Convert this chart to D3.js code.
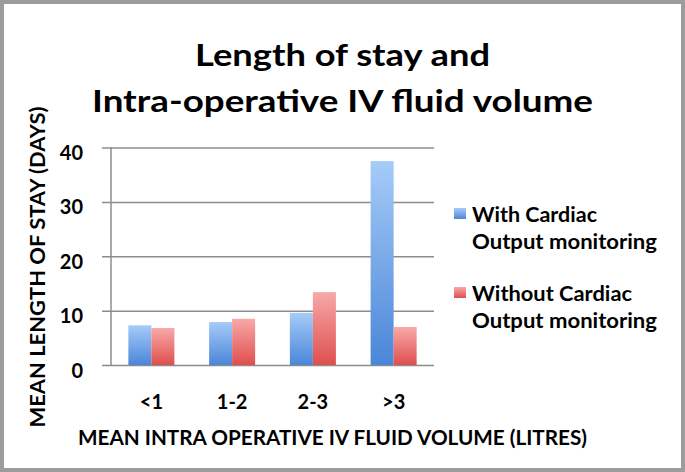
<!DOCTYPE html>
<html>
<head>
<meta charset="utf-8">
<script src="https://cdn.jsdelivr.net/npm/d3@7"></script>
<style>
  html, body { margin: 0; padding: 0; background: #fff; }
  svg { display: block; font-family: Lato, 'Open Sans', sans-serif; font-weight: bold; }
</style>
</head>
<body>
<div id="chart"></div>
<script>
'use strict'

const categories = ['<1', '1-2', '2-3', '>3']
const seriesNames = ['With Cardiac Output monitoring', 'Without Cardiac Output monitoring']
const withMonitoring = [7.3, 7.9, 9.6, 37.5]
const withoutMonitoring = [6.8, 8.5, 13.4, 7.0]
const yTicks = [0, 10, 20, 30, 40]
const legendLines = [['With Cardiac', 'Output monitoring'], ['Without Cardiac', 'Output monitoring']]
const legendWidths = [[125, 185], [160, 185]]

const width = 685
const height = 472
const plot = {left: 111, right: 434, top: 147.5, bottom: 365}
const gridLeft = 102
const colors = [
  {top: '#a6cbf8', bottom: '#4a86d9'},
  {top: '#f7a9a8', bottom: '#df4f4e'}
]

const rows = categories.map((c, i) => ({category: c, values: [withMonitoring[i], withoutMonitoring[i]]}))

const svg = d3.select('#chart')
  .append('svg')
    .attr('width', width)
    .attr('height', height)

const defs = svg.append('defs')
colors.forEach((c, i) => {
  const g = defs.append('linearGradient')
    .attr('id', 'grad' + i)
    .attr('x1', 0).attr('y1', 0).attr('x2', 0).attr('y2', 1)
  g.append('stop').attr('offset', '0%').attr('stop-color', c.top)
  g.append('stop').attr('offset', '100%').attr('stop-color', c.bottom)
})

// frame
svg.append('rect')
  .attr('x', 2).attr('y', 2)
  .attr('width', width - 4).attr('height', height - 4)
  .attr('fill', '#fff')
  .attr('stroke', '#9c9c9c')
  .attr('stroke-width', 4)

// title
const title = svg.append('text')
  .attr('text-anchor', 'middle')
  .attr('font-size', 31)
  .attr('fill', '#000')
title.append('tspan').attr('x', 342.5).attr('y', 66)
  .attr('textLength', 295).attr('lengthAdjust', 'spacingAndGlyphs')
  .text('Length of stay and')
title.append('tspan').attr('x', 342.5).attr('y', 112)
  .attr('textLength', 501).attr('lengthAdjust', 'spacingAndGlyphs')
  .text('Intra-operative IV fluid volume')

const x0 = d3.scaleBand()
  .domain(categories)
  .range([plot.left, plot.right])
  .paddingInner(0.43)
  .paddingOuter(0.215)

const x1 = d3.scaleBand()
  .domain([0, 1])
  .range([0, x0.bandwidth()])

const y = d3.scaleLinear()
  .domain([0, 40])
  .range([plot.bottom, plot.top])

// gridlines + y tick labels
const yAxis = d3.axisLeft(y)
  .tickValues(yTicks)
  .tickSize(plot.right - gridLeft)
  .tickPadding(19)

svg.append('g')
  .attr('transform', `translate(${plot.right},0)`)
  .call(yAxis)
  .call(g => {
    g.select('.domain').remove()
    g.selectAll('line').attr('stroke', '#8c8c8c').attr('stroke-width', 1.5)
    g.selectAll('text')
      .attr('fill', '#000')
      .attr('font-size', 20)
      .attr('font-family', 'Lato, sans-serif')
      .attr('font-weight', 'bold')
      .attr('dy', '0.6em')
  })

// vertical axis line
svg.append('line')
  .attr('x1', plot.left).attr('x2', plot.left)
  .attr('y1', y(40)).attr('y2', y(0))
  .attr('stroke', '#8c8c8c')
  .attr('stroke-width', 1.5)

// bars
svg.append('g')
  .selectAll('g')
  .data(rows)
  .join('g')
    .attr('transform', d => `translate(${x0(d.category)},0)`)
  .selectAll('rect')
  .data(d => d.values.map((v, i) => ({v, i})))
  .join('rect')
    .attr('x', d => x1(d.i))
    .attr('y', d => y(d.v))
    .attr('width', x1.bandwidth())
    .attr('height', d => y(0) - y(d.v))
    .attr('fill', d => `url(#grad${d.i})`)

// x axis labels
const xAxis = d3.axisBottom(x0).tickSize(0).tickPadding(30)
svg.append('g')
  .attr('transform', `translate(0,${plot.bottom})`)
  .call(xAxis)
  .call(g => {
    g.select('.domain').remove()
    g.selectAll('text')
      .attr('fill', '#000')
      .attr('font-size', 20)
      .attr('font-family', 'Lato, sans-serif')
      .attr('font-weight', 'bold')
  })

// axis titles
svg.append('text')
  .attr('x', 332.5).attr('y', 445)
  .attr('text-anchor', 'middle')
  .attr('font-size', 21)
  .attr('textLength', 509).attr('lengthAdjust', 'spacingAndGlyphs')
  .text('MEAN INTRA OPERATIVE IV FLUID VOLUME (LITRES)')

svg.append('text')
  .attr('transform', 'translate(45,267) rotate(-90)')
  .attr('text-anchor', 'middle')
  .attr('font-size', 21)
  .attr('textLength', 321).attr('lengthAdjust', 'spacingAndGlyphs')
  .text('MEAN LENGTH OF STAY (DAYS)')

// legend
const legendTop = [208, 287]
const legend = svg.append('g')
  .selectAll('g')
  .data(seriesNames)
  .join('g')
    .attr('transform', (d, i) => `translate(454,${legendTop[i]})`)
legend.append('rect')
  .attr('width', 12).attr('height', 11)
  .attr('fill', (d, i) => `url(#grad${i})`)
legend.append('text')
  .attr('font-size', 21)
  .selectAll('tspan')
  .data((d, i) => legendLines[i].map((t, j) => ({t, w: legendWidths[i][j]})))
  .join('tspan')
    .attr('x', 18)
    .attr('y', (d, j) => 14 + j * 27)
    .attr('textLength', d => d.w)
    .attr('lengthAdjust', 'spacingAndGlyphs')
    .text(d => d.t)
</script>
</body>
</html>
